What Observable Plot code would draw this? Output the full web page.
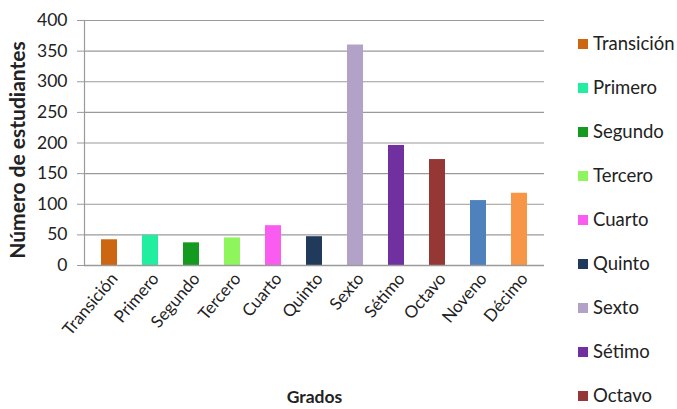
<!DOCTYPE html>
<html>
<head>
<meta charset="utf-8">
<script src="https://cdn.jsdelivr.net/npm/d3@7"></script>
<script src="https://cdn.jsdelivr.net/npm/@observablehq/plot@0.6"></script>
<style>
  html, body { margin: 0; padding: 0; background: #fff; overflow: hidden; }
  #wrap { position: relative; width: 677px; height: 409px; overflow: hidden; font-family: Lato, sans-serif; }
  #legend { position: absolute; left: 578px; top: 32px; }
  .item { height: 44px; display: flex; align-items: flex-start; font-size: 18.5px; line-height: 22px; color: #222; }
  .sw { width: 10px; height: 10px; margin-right: 5px; margin-top: 7px; flex: none; }
</style>
</head>
<body>
<div id="wrap"><div id="chart"></div><div id="legend"></div></div>
<script>
const grades = ["Transición","Primero","Segundo","Tercero","Cuarto","Quinto","Sexto","Sétimo","Octavo","Noveno","Décimo"];
const students = [42, 49, 37, 45, 65, 47, 360, 196, 173, 106, 118];
const colors = ["#CC6611","#22EEA0","#149A1E","#8EF65C","#FA5CF2","#203A5C","#B3A2C7","#7030A0","#953735","#4F81BD","#F79646"];
const yTicks = [0,50,100,150,200,250,300,350,400];
const legendShown = 9; // the reference legend is cut after "Octavo"
const yTitle = "Número de estudiantes";
const xTitle = "Grados";

const data = grades.map((g, i) => ({grade: g, value: students[i], color: colors[i]}));

const chart = Plot.plot({
  width: 677,
  height: 409,
  marginLeft: 84,
  marginRight: 133,
  marginTop: 20,
  marginBottom: 144,
  style: {fontFamily: "Lato, sans-serif", background: "#fff", color: "#222"},
  x: {domain: grades, paddingInner: 0.6, paddingOuter: 0.3, label: null},
  y: {domain: [0, 400], label: null},
  color: {type: "identity"},
  marks: [
    Plot.gridY(yTicks, {stroke: "#9a9a9a", strokeOpacity: 1, strokeWidth: 1.2}),
    Plot.frame({anchor: "left", stroke: "#9a9a9a", strokeWidth: 1.2}),
    Plot.axisY(yTicks, {tickSize: 7, tickPadding: 10, fontSize: 17.5, stroke: "#9a9a9a", label: null}),
    Plot.barY(data, {x: "grade", y: "value", fill: "color"}),
    Plot.ruleY([0], {stroke: "#9a9a9a", strokeWidth: 1.5}),
    Plot.axisX({tickSize: 0, tickRotate: -50, tickPadding: 10, fontSize: 17, label: null, dx: 5}),
    Plot.text([yTitle], {frameAnchor: "left", textAnchor: "middle", rotate: -90, dx: -66, dy: 7, fontSize: 21, fontWeight: "bold", text: d => d}),
    Plot.text([xTitle], {frameAnchor: "bottom", textAnchor: "middle", dy: 137, fontSize: 17.5, fontWeight: "bold", text: d => d})
  ]
});
document.getElementById("chart").appendChild(chart);

const legend = d3.select("#legend");
const items = legend.selectAll("div").data(data.slice(0, legendShown)).join("div").attr("class", "item");
items.append("div").attr("class", "sw").style("background", d => d.color);
items.append("span").text(d => d.grade);
</script>
</body>
</html>
